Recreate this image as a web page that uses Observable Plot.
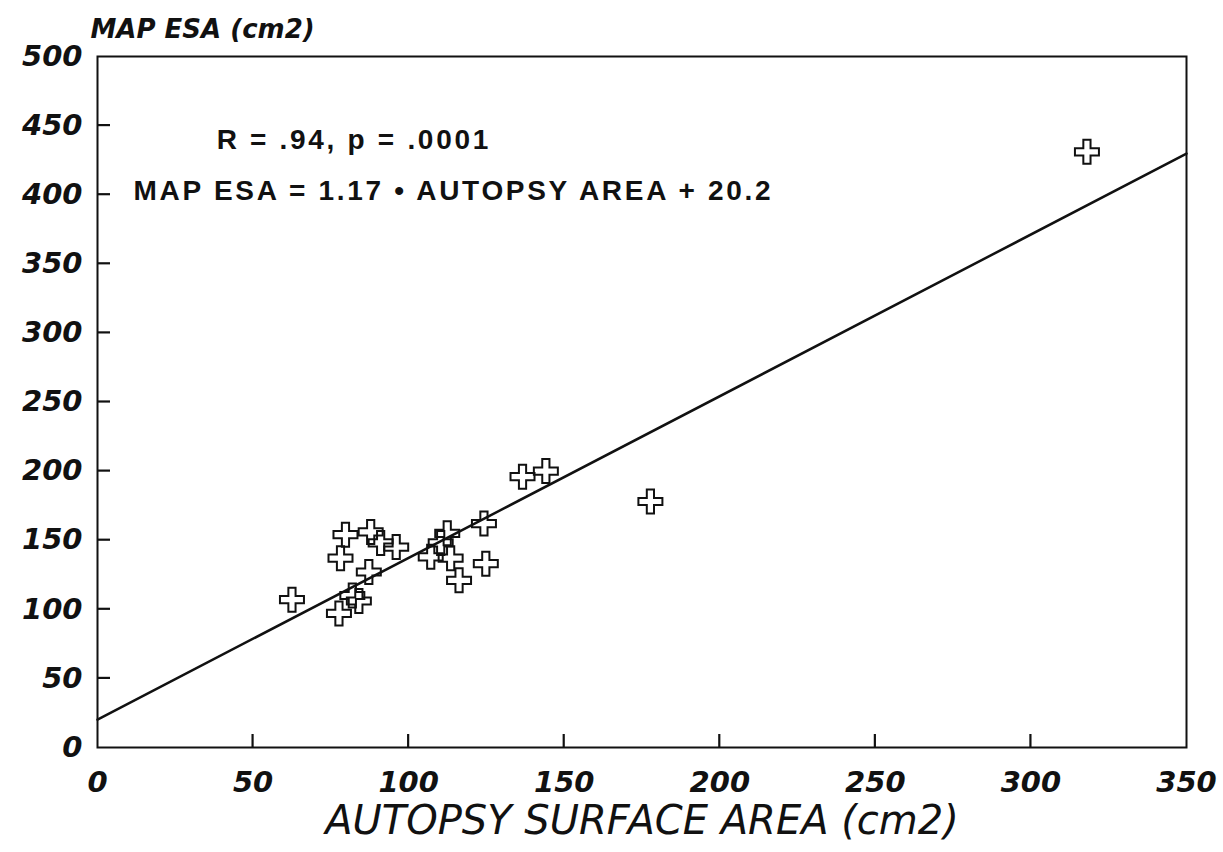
<!DOCTYPE html>
<html>
<head>
<meta charset="utf-8">
<script src="https://cdn.jsdelivr.net/npm/d3@7"></script>
<script src="https://cdn.jsdelivr.net/npm/@observablehq/plot@0.6"></script>
<style>
  html, body { margin: 0; padding: 0; background: #fff; }
  #chart svg { display: block; }
</style>
</head>
<body>
<div id="chart"></div>
<script>
// Data
const autopsyArea = [62.5, 77.6, 78.1, 79.7, 81.9, 84.0, 87.2, 87.8, 91.0, 96.0, 107.1, 110.3, 112.4, 113.5, 116.2, 124.2, 124.8, 136.6, 144.1, 177.7, 318.0];
const mapEsa      = [107,  97,   137,  154,  110,  106,  127,  156,  148,  145,  138,   148,   155,   137,   121,   162,   133,   196,   200,   178,   431];

// Regression line endpoints (MAP ESA = 1.17 * AUTOPSY AREA + 20.2)
const fitX = [0, 350];
const fitY = [20.2, 429.7];

// Tick values
const xTickLabels = [0, 50, 100, 150, 200, 250, 300, 350];
const xTickMarks = [50, 100, 150, 200, 250, 300];
const yTickLabels = [0, 50, 100, 150, 200, 250, 300, 350, 400, 450, 500];
const yTickMarks = [50, 100, 150, 200, 250, 300, 350, 400, 450];

// Annotations
const annotText = ["R = .94, p = .0001", "MAP ESA = 1.17 • AUTOPSY AREA + 20.2"];
const annotX = [38.3, 11.6];
const annotY = [439.5, 402.5];

const points = autopsyArea.map((x, i) => ({x, y: mapEsa[i]}));
const fit = fitX.map((x, i) => ({x, y: fitY[i]}));
const annots = annotText.map((t, i) => ({t, x: annotX[i], y: annotY[i]}));

const W = 1223, H = 852, mL = 97, mR = 37, mT = 56, mB = 105;
const TICK = 13;

const crossOutline = {
  draw(ctx, size) {
    const r = Math.sqrt(size / Math.PI);
    const w = r * 0.3;
    ctx.moveTo(-w, -r); ctx.lineTo(w, -r); ctx.lineTo(w, -w); ctx.lineTo(r, -w);
    ctx.lineTo(r, w); ctx.lineTo(w, w); ctx.lineTo(w, r); ctx.lineTo(-w, r);
    ctx.lineTo(-w, w); ctx.lineTo(-r, w); ctx.lineTo(-r, -w); ctx.lineTo(-w, -w);
    ctx.closePath();
  }
};

const tickFont = {fontFamily: "DejaVu Sans", fontSize: 29, fontStyle: "italic", fontWeight: "bold"};

const chart = Plot.plot({
  width: W,
  height: H,
  marginLeft: mL,
  marginRight: mR,
  marginTop: mT,
  marginBottom: mB,
  style: {background: "#fff", color: "#111"},
  x: {domain: [0, 350]},
  y: {domain: [0, 500]},
  marks: [
    Plot.frame({stroke: "#111", strokeWidth: 2}),
    Plot.axisX(xTickLabels, {tickSize: 0, tickPadding: 24, label: null, ...tickFont, fill: "#111"}),
    Plot.axisY(yTickLabels, {tickSize: 0, tickPadding: 15, label: null, ...tickFont, fill: "#111"}),
    Plot.line(fit, {x: "x", y: "y", stroke: "#111", strokeWidth: 2.5}),
    Plot.dot(points, {x: "x", y: "y", symbol: crossOutline, r: 12, stroke: "#111", strokeWidth: 2, fill: "none"}),
    Plot.text(annots, {x: "x", y: "y", text: "t", textAnchor: "start", fontFamily: "Liberation Sans", fontWeight: "bold", fontSize: 28, fill: "#111"}),
    Plot.text(["MAP ESA (cm2)"], {frameAnchor: "top-left", dx: -7, dy: -37, textAnchor: "start", fontFamily: "DejaVu Sans", fontWeight: "bold", fontStyle: "italic", fontSize: 26, fill: "#111"}),
    Plot.text(["AUTOPSY SURFACE AREA (cm2)"], {frameAnchor: "bottom", dy: 86, fontFamily: "DejaVu Sans", fontStyle: "italic", fontSize: 40, fill: "#111"})
  ]
});

const svg = d3.select(chart);
svg.selectAll("text")
  .filter(function() { return annotText.includes(this.textContent); })
  .attr("letter-spacing", "2.7px");

// inward tick marks, positioned through Plot's own scales
const sx = chart.scale("x"), sy = chart.scale("y");
const x0 = sx.apply(0), y0 = sy.apply(0);
const gt = svg.append("g").attr("class", "inward-ticks").attr("stroke", "#111").attr("stroke-width", 2.2);
gt.selectAll("line.xt").data(xTickMarks).join("line").attr("class", "xt")
  .attr("x1", d => sx.apply(d)).attr("x2", d => sx.apply(d))
  .attr("y1", y0).attr("y2", y0 - TICK);
gt.selectAll("line.yt").data(yTickMarks).join("line").attr("class", "yt")
  .attr("y1", d => sy.apply(d)).attr("y2", d => sy.apply(d))
  .attr("x1", x0).attr("x2", x0 + TICK);

document.getElementById("chart").appendChild(chart);
</script>
</body>
</html>
